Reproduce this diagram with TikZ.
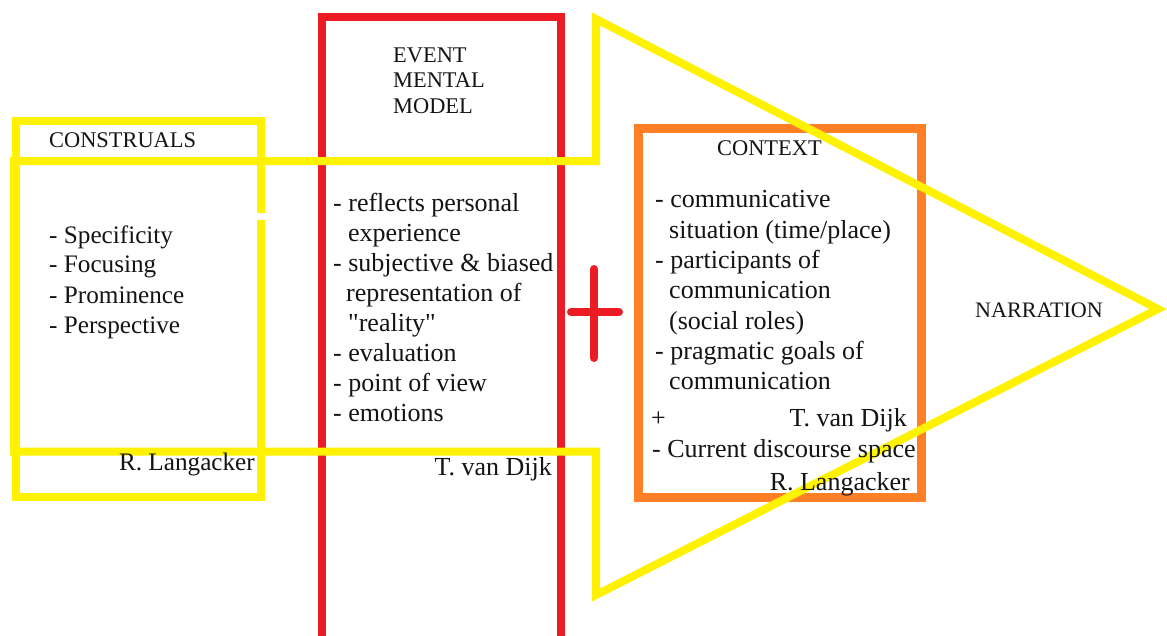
\documentclass[tikz,border=0pt]{standalone}
\usepackage{fontspec}
\newfontfamily\tnr{Liberation Serif}
\definecolor{pyellow}{RGB}{255,242,0}
\definecolor{pred}{RGB}{237,28,36}
\definecolor{porange}{RGB}{255,127,39}
\definecolor{ptext}{RGB}{20,20,20}
\begin{document}
\begin{tikzpicture}[x=1pt,y=-1pt,
  hdr/.style={font=\tnr\fontsize{22.4}{27}\selectfont, inner sep=0, anchor=base west, text=ptext},
  body/.style={font=\tnr\fontsize{25.2}{30}\selectfont, inner sep=0, anchor=base west, text=ptext},
  bodyr/.style={body, anchor=base east},
  wide/.style={font=\tnr\fontsize{26}{30}\selectfont, inner sep=0, anchor=base west, text=ptext},
  wider/.style={wide, anchor=base east},
  ybox/.style={draw=pyellow, line width=8pt, line join=miter},
  rbox/.style={draw=pred, line width=8pt},
  obox/.style={draw=porange, line width=9pt}]
\useasboundingbox[fill=white] (0,0) rectangle (1167,635);

% red event box
\draw[rbox] (322,16.5) rectangle (561,640);
% orange context box
\draw[obox] (638,128) rectangle (921,497);
% red plus
\draw[draw=pred, line width=8pt, line cap=round] (571,312) -- (619,312);
\draw[draw=pred, line width=8pt, line cap=round] (594,269) -- (594,358);

% yellow construals box and big arrow
\draw[ybox] (16,121) rectangle (261,497);
\draw[ybox] (14,161) -- (596,161) -- (596,19) -- (1158,309) -- (596,595) -- (596,451.5) -- (14,451.5) -- cycle;
\fill[white] (255,213) rectangle (267,220);

% construals texts
\node[hdr] (cons) at (49,147) {CONSTRUALS};
\node[body] (c1) at (49,243) {- Specificity};
\node[body] (c2) at (49,272.5) {- Focusing};
\node[body] (c3) at (49,303) {- Prominence};
\node[body] (c4) at (49,333) {- Perspective};
\node[bodyr] (c5) at (255,470) {R. Langacker};

% event texts
\node[hdr] (ev1) at (393,62) {EVENT};
\node[hdr] (ev2) at (393,87) {MENTAL};
\node[hdr] (ev3) at (393,113) {MODEL};
\node[wide] (e1) at (333,211) {- reflects personal};
\node[wide] (e2) at (348,241) {experience};
\node[wide] (e3) at (333,271) {- subjective \& biased};
\node[wide] (e4) at (346,301) {representation of};
\node[wide] (e5) at (348,331) {"reality"};
\node[wide] (e6) at (333,361) {- evaluation};
\node[wide] (e7) at (333,391) {- point of view};
\node[wide] (e8) at (333,421) {- emotions};
\node[wider] (e9) at (552,475) {T. van Dijk};

% context texts
\node[hdr] (ctx) at (717,155) {CONTEXT};
\node[wide] (k1) at (655,207) {- communicative};
\node[wide] (k2) at (669,238) {situation (time/place)};
\node[wide] (k3) at (655,268) {- participants of};
\node[wide] (k4) at (669,298) {communication};
\node[wide] (k5) at (669,329) {(social roles)};
\node[wide] (k6) at (655,359) {- pragmatic goals of};
\node[wide] (k7) at (669,389) {communication};
\node[wide] (k8) at (651,426) {+};
\node[wider] (k9) at (907,426) {T. van Dijk};
\node[wide] (k10) at (652,457) {- Current discourse space};
\node[wider] (k11) at (910,490) {R. Langacker};

% narration
\node[hdr, font=\tnr\fontsize{22.1}{27}\selectfont] (nar) at (975,317) {NARRATION};
\end{tikzpicture}
\end{document}
